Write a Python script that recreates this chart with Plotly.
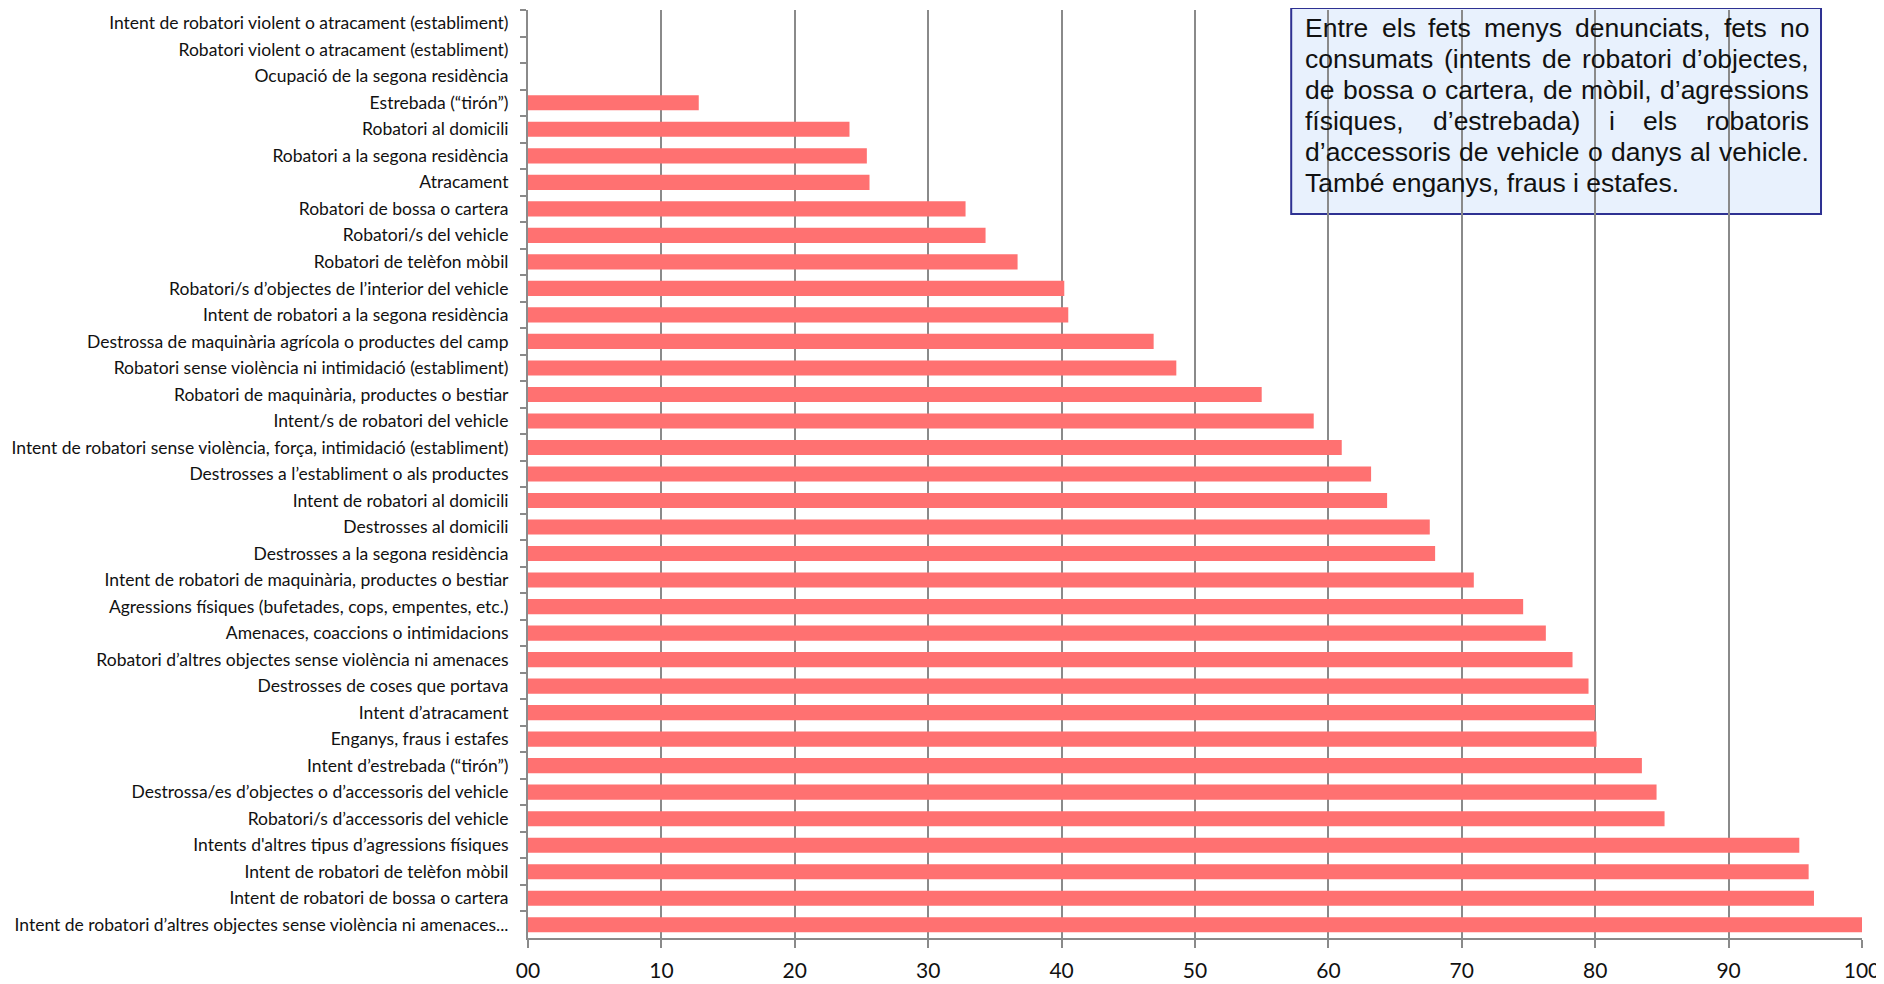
import plotly.graph_objects as go

categories = [
    "Intent de robatori violent o atracament (establiment)",
    "Robatori violent o atracament (establiment)",
    "Ocupació de la segona residència",
    "Estrebada (“tirón”)",
    "Robatori al domicili",
    "Robatori a la segona residència",
    "Atracament",
    "Robatori de bossa o cartera",
    "Robatori/s del vehicle",
    "Robatori de telèfon mòbil",
    "Robatori/s d’objectes de l’interior del vehicle",
    "Intent de robatori a la segona residència",
    "Destrossa de maquinària agrícola o productes del camp",
    "Robatori sense violència ni intimidació (establiment)",
    "Robatori de maquinària, productes o bestiar",
    "Intent/s de robatori del vehicle",
    "Intent de robatori sense violència, força, intimidació (establiment)",
    "Destrosses a l’establiment o als productes",
    "Intent de robatori al domicili",
    "Destrosses al domicili",
    "Destrosses a la segona residència",
    "Intent de robatori de maquinària, productes o bestiar",
    "Agressions físiques (bufetades, cops, empentes, etc.)",
    "Amenaces, coaccions o intimidacions",
    "Robatori d’altres objectes sense violència ni amenaces",
    "Destrosses de coses que portava",
    "Intent d’atracament",
    "Enganys, fraus i estafes",
    "Intent d’estrebada (“tirón”)",
    "Destrossa/es d’objectes o d’accessoris del vehicle",
    "Robatori/s d’accessoris del vehicle",
    "Intents d'altres tipus d’agressions físiques",
    "Intent de robatori de telèfon mòbil",
    "Intent de robatori de bossa o cartera",
    "Intent de robatori d’altres objectes sense violència ni amenaces...",
]

values = [
    0, 0, 0, 12.8, 24.1, 25.4, 25.6, 32.8, 34.3, 36.7, 40.2, 40.5,
    46.9, 48.6, 55.0, 58.9, 61.0, 63.2, 64.4, 67.6, 68.0, 70.9, 74.6,
    76.3, 78.3, 79.5, 80.0, 80.1, 83.5, 84.6, 85.2, 95.3, 96.0, 96.4, 100.0,
]

x_tick_vals = [0, 10, 20, 30, 40, 50, 60, 70, 80, 90, 100]
x_tick_text = ["00", "10", "20", "30", "40", "50", "60", "70", "80", "90", "100"]

note_lines = [
    "Entre els fets menys denunciats, fets no",
    "consumats (intents de robatori d’objectes,",
    "de bossa o cartera, de mòbil, d’agressions",
    "físiques, d’estrebada) i els robatoris",
    "d’accessoris de vehicle o danys al vehicle.",
    "També enganys, fraus i estafes.",
]
note_justified = [True, True, True, True, True, False]

# ---------------- layout geometry ----------------
# The page body has an 8px margin, so the figure is drawn offset by 8px;
# all target positions below are in screenshot pixels.
OFF = 8
W, H = 1884 - OFF, 984 - OFF
PLOT_L, PLOT_R, PLOT_T, PLOT_B = 527.5, 1862, 10, 938.5   # screenshot px
ML = PLOT_L - OFF
MR = (W + OFF) - PLOT_R
MT = PLOT_T - OFF
MB = (H + OFF) - PLOT_B
PW = W - ML - MR
PH = H - MT - MB


def px_to_paper_x(px):
    return (px - PLOT_L) / PW


def px_to_paper_y(py):
    return (PLOT_B - py) / PH


# Arial / Liberation Sans advance widths (per 1000 em)
ARIAL = {
    " ": 278, "(": 333, ")": 333, ",": 278, ".": 278, "’": 222, "'": 191,
    "a": 556, "b": 556, "c": 500, "d": 556, "e": 556, "f": 278, "g": 556,
    "h": 556, "i": 222, "j": 222, "k": 500, "l": 222, "m": 833, "n": 556,
    "o": 556, "p": 556, "q": 556, "r": 333, "s": 500, "t": 278, "u": 556,
    "v": 500, "w": 722, "x": 500, "y": 500, "z": 500,
    "E": 667, "T": 611, "é": 556, "ò": 556, "í": 278,
}


def text_w(s, size):
    return sum(ARIAL.get(ch, 556) for ch in s) * size / 1000.0


NOTE_FONT = 26.5
NOTE_LEFT, NOTE_RIGHT = 1304, 1808
NOTE_Y0, NOTE_DY = 28, 31

fig = go.Figure(
    go.Bar(
        x=values,
        y=categories,
        orientation="h",
        marker=dict(color="#FF7171", line=dict(width=0)),
        width=0.57,
        hoverinfo="x+y",
    )
)

grid_col = "#8A8A8A"
note_font = dict(family="Liberation Sans, Arial, sans-serif", size=NOTE_FONT, color="#111111")

annotations = []
for i, (line, just) in enumerate(zip(note_lines, note_justified)):
    yc = NOTE_Y0 + i * NOTE_DY
    words = line.split(" ")
    if just and len(words) > 1:
        total = sum(text_w(w_, NOTE_FONT) for w_ in words)
        gap = (NOTE_RIGHT - NOTE_LEFT - total) / (len(words) - 1)
        xpos = NOTE_LEFT
        for w_ in words:
            annotations.append(dict(
                xref="paper", yref="paper",
                x=px_to_paper_x(xpos), y=px_to_paper_y(yc),
                xanchor="left", yanchor="middle",
                showarrow=False, text=w_, borderpad=0, font=note_font,
            ))
            xpos += text_w(w_, NOTE_FONT) + gap
    else:
        annotations.append(dict(
            xref="paper", yref="paper",
            x=px_to_paper_x(NOTE_LEFT), y=px_to_paper_y(yc),
            xanchor="left", yanchor="middle",
            showarrow=False, text=line, borderpad=0, font=note_font,
        ))

fig.update_layout(
    width=W,
    height=H,
    margin=dict(l=ML, r=MR, t=MT, b=MB, autoexpand=False),
    paper_bgcolor="white",
    plot_bgcolor="rgba(0,0,0,0)",
    showlegend=False,
    font=dict(family="Lato, Carlito, sans-serif", color="#111111"),
    xaxis=dict(
        range=[0, 100],
        tickvals=x_tick_vals,
        ticktext=x_tick_text,
        showgrid=True,
        gridcolor=grid_col,
        gridwidth=1.5,
        zeroline=False,
        showline=True,
        linecolor=grid_col,
        linewidth=2,
        ticks="outside",
        ticklen=8,
        tickcolor=grid_col,
        tickwidth=1.5,
        ticklabelstandoff=5,
        automargin=False,
        tickfont=dict(family="Lato, Carlito, sans-serif", size=21, color="#111111"),
        fixedrange=True,
    ),
    yaxis=dict(
        categoryorder="array",
        categoryarray=categories,
        autorange=False,
        range=[len(categories) - 0.5, -0.5],
        showline=True,
        linecolor=grid_col,
        linewidth=2,
        ticks="outside",
        tickson="boundaries",
        ticklen=6,
        tickcolor=grid_col,
        tickwidth=1.5,
        ticklabelstandoff=14,
        showgrid=False,
        automargin=False,
        tickfont=dict(family="Lato, Carlito, sans-serif", size=17.5, color="#111111"),
        fixedrange=True,
    ),
    shapes=[
        dict(
            type="rect",
            xref="paper",
            yref="paper",
            x0=px_to_paper_x(1291),
            x1=px_to_paper_x(1821),
            y0=px_to_paper_y(214),
            y1=px_to_paper_y(8),
            fillcolor="#E8F1FD",
            line=dict(color="#2E3192", width=2),
            layer="below",
        )
    ],
    annotations=annotations,
)

fig.write_html("out.html")
